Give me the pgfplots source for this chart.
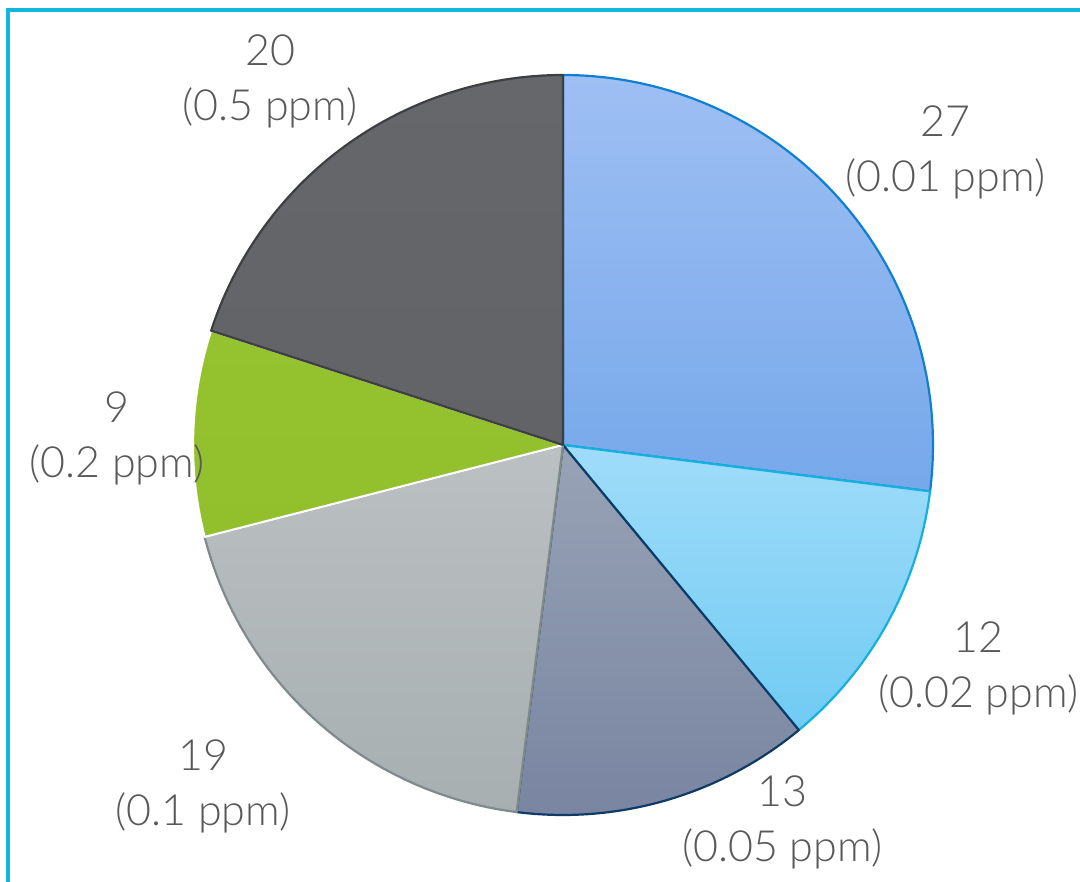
\documentclass[border=0pt]{standalone}
\usepackage{pgfplots}
\usepackage{pgfplotstable}
\pgfplotsset{compat=1.18}
\usepackage{fontspec}
\setmainfont{Lato Light}

\definecolor{aTop}{HTML}{9EBFF4}\definecolor{aBot}{HTML}{76A8EA}\definecolor{aLine}{HTML}{0E7FD2}
\definecolor{bTop}{HTML}{A0DCFA}\definecolor{bBot}{HTML}{70CBF3}\definecolor{bLine}{HTML}{13B0E0}
\definecolor{cTop}{HTML}{98A3B6}\definecolor{cBot}{HTML}{7985A1}\definecolor{cLine}{HTML}{0D3A66}
\definecolor{dTop}{HTML}{BBC0C2}\definecolor{dBot}{HTML}{A7AFB1}\definecolor{dLine}{HTML}{7F8A8C}
\definecolor{eTop}{HTML}{95C330}\definecolor{eBot}{HTML}{92C02D}\definecolor{eLine}{HTML}{FFFFFF}
\definecolor{fTop}{HTML}{66676A}\definecolor{fBot}{HTML}{626366}\definecolor{fLine}{HTML}{3E3F41}
\definecolor{frame}{HTML}{13B6DF}
\definecolor{txt}{HTML}{595959}

% value, label, colours, label position (pixel coordinates, y upward)
\pgfplotstableread{
value ppm  top  bot  line  lx  ly
27    0.01 aTop aBot aLine 945 730
12    0.02 bTop bBot bLine 978 214
13    0.05 cTop cBot cLine 782 60
19    0.1  dTop dBot dLine 203 96
9     0.2  eTop eBot eLine 117 444
20    0.5  fTop fBot fLine 270 801
}\piedata

\begin{document}
\begin{tikzpicture}
\useasboundingbox (0,0) rectangle (540bp,441bp);
\begin{axis}[
  at={(0,0)}, anchor=south west,
  width=540bp, height=441bp, scale only axis,
  xmin=0, xmax=1080, ymin=0, ymax=882,
  hide axis, clip=false,
]
\pgfplotstablegetrowsof{\piedata}
\pgfmathtruncatemacro\N{\pgfplotsretval-1}
\def\cum{0}
\pgfplotsforeachungrouped \i in {0,...,\N}{%
  \pgfplotstablegetelem{\i}{value}\of\piedata \let\v\pgfplotsretval
  \pgfplotstablegetelem{\i}{ppm}\of\piedata \let\p\pgfplotsretval
  \pgfplotstablegetelem{\i}{top}\of\piedata \let\ctop\pgfplotsretval
  \pgfplotstablegetelem{\i}{bot}\of\piedata \let\cbot\pgfplotsretval
  \pgfplotstablegetelem{\i}{line}\of\piedata \let\cline\pgfplotsretval
  \pgfplotstablegetelem{\i}{lx}\of\piedata \let\lx\pgfplotsretval
  \pgfplotstablegetelem{\i}{ly}\of\piedata \let\ly\pgfplotsretval
  \pgfmathsetmacro\a{90-3.6*\cum}%
  \pgfmathsetmacro\b{90-3.6*(\cum+\v)}%
  \pgfmathsetmacro\cum{\cum+\v}%
  \edef\temp{\noexpand\addplot[top color=\ctop, bottom color=\cbot, draw=\cline, line width=1.1bp, line join=round,
     domain=\b:\a, samples=120, variable=\noexpand\t]
     ({563+370*cos(\noexpand\t)},{437+370*sin(\noexpand\t)}) -- (axis cs:563,437) -- cycle;
     \noexpand\node[align=center, text=txt, font=\noexpand\fontsize{21.5bp}{27.5bp}\noexpand\selectfont, inner sep=0pt]
       at (axis cs:\lx,\ly) {\v\noexpand\\(\p\space ppm)};}%
  \temp
}
\draw[frame, line width=1.9bp] (axis cs:8,872) rectangle (axis cs:1100,-20);
\end{axis}
\end{tikzpicture}
\end{document}
